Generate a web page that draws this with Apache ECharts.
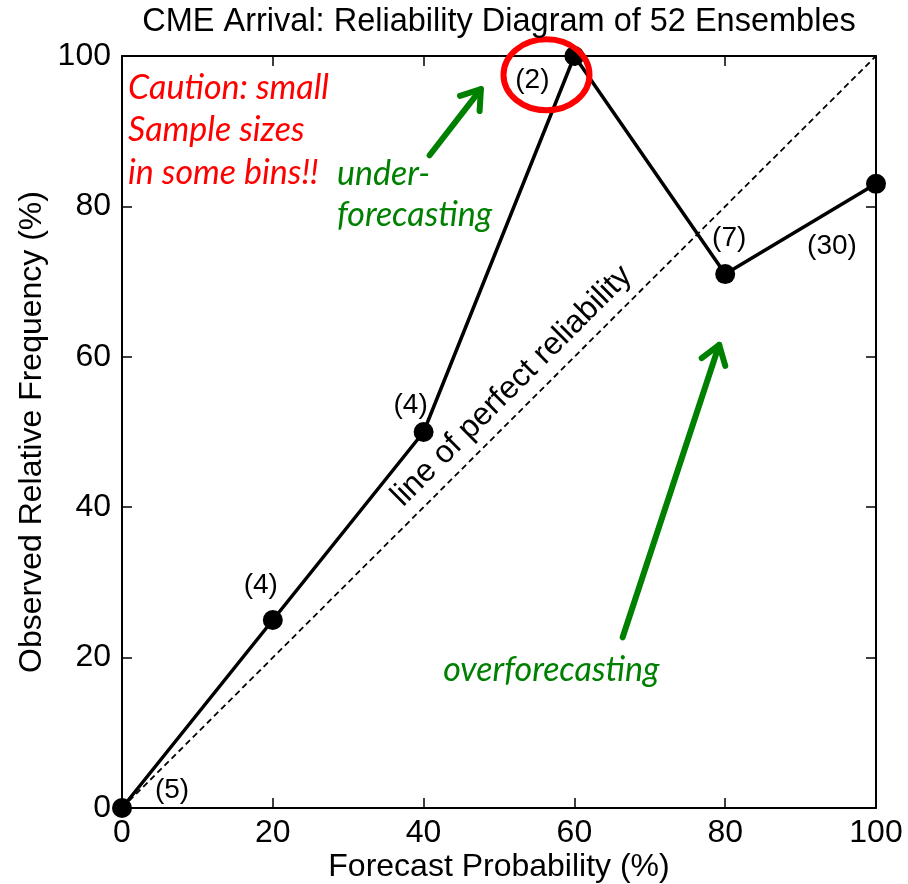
<!DOCTYPE html>
<html>
<head>
<meta charset="utf-8">
<script src="https://cdn.jsdelivr.net/npm/echarts@6/dist/echarts.min.js"></script>
<style>
html, body { margin: 0; padding: 0; background: #fff; }
#main { width: 908px; height: 884px; }
</style>
</head>
<body>
<div id="main"></div>
<script>
// reliability diagram data
var forecastProb = [0, 20, 40, 60, 80, 100];
var observedFreq = [0, 25, 50, 100, 71, 83];
var sampleSizes = [5, 4, 4, 2, 7, 30];
var perfectLine = [[0, 0], [100, 100]];
var axisTicks = [0, 20, 40, 60, 80, 100];

var titleText = 'CME Arrival: Reliability Diagram of 52 Ensembles';
var xName = 'Forecast Probability (%)';
var yName = 'Observed Relative Frequency (%)';
var cautionLines = ['Caution: small', 'Sample sizes', 'in some bins!!'];

// where the "(n)" labels sit relative to each dot (px)
var labelOffsets = [[50, -18], [-12, -35], [-13, -27], [-42, 24], [4, -36], [-44, 62]];

var myChart = echarts.init(document.getElementById('main'), null, { renderer: 'canvas' });

var pts = forecastProb.map(function (x, i) {
    return {
        value: [x, observedFreq[i]],
        label: {
            show: true,
            position: 'inside',
            offset: labelOffsets[i],
            formatter: '(' + sampleSizes[i] + ')'
        }
    };
});

function axisCommon(pos, showLabel, margin) {
    return {
        type: 'value',
        position: pos,
        min: 0,
        max: 100,
        interval: 20,
        nameMoveOverlap: false,
        axisLine: { show: true, onZero: false, lineStyle: { color: '#000', width: 2 } },
        axisTick: { show: true, inside: true, length: 10, lineStyle: { color: '#000', width: 1.5 } },
        splitLine: { show: false },
        axisLabel: {
            show: showLabel,
            color: '#000',
            fontSize: 32,
            fontFamily: 'Liberation Sans',
            margin: margin || 11
        }
    };
}

var xBottom = axisCommon('bottom', true, 9);
xBottom.name = xName;
xBottom.nameLocation = 'middle';
xBottom.nameGap = 43;
xBottom.nameTextStyle = { color: '#000', fontSize: 32, fontFamily: 'Liberation Sans' };
var xTop = axisCommon('top', false);

var yLeft = axisCommon('left', true);
yLeft.name = yName;
yLeft.nameLocation = 'middle';
yLeft.nameGap = 74;
yLeft.nameTextStyle = { color: '#000', fontSize: 32, fontFamily: 'Liberation Sans' };
var yRight = axisCommon('right', false);

var option = {
    backgroundColor: '#fff',
    animation: false,
    grid: { left: 122, top: 56, width: 754, height: 752, outerBoundsMode: 'none', containLabel: false },
    xAxis: [xBottom, xTop],
    yAxis: [yLeft, yRight],
    series: [
        {
            type: 'line',
            data: perfectLine,
            symbol: 'none',
            lineStyle: { color: '#000', width: 1.8, type: [6, 4] },
            z: 2
        },
        {
            type: 'line',
            data: pts,
            symbol: 'circle',
            symbolSize: 20,
            itemStyle: { color: '#000' },
            lineStyle: { color: '#000', width: 3.5 },
            label: { color: '#000', fontSize: 28, fontFamily: 'Liberation Sans' },
            z: 3
        }
    ]
};
myChart.setOption(option);

// annotations placed in data coordinates
function px(x, y) {
    return myChart.convertToPixel({ gridIndex: 0 }, [x, y]);
}

function arrow(from, to, color, width) {
    var a = px(from[0], from[1]);
    var b = px(to[0], to[1]);
    var ang = Math.atan2(b[1] - a[1], b[0] - a[0]);
    var hl = 22, spread = 0.6;
    var h1 = [b[0] - hl * Math.cos(ang - spread), b[1] - hl * Math.sin(ang - spread)];
    var h2 = [b[0] - hl * Math.cos(ang + spread), b[1] - hl * Math.sin(ang + spread)];
    var st = { stroke: color, lineWidth: width, lineCap: 'round', lineJoin: 'round', fill: null };
    return [
        { type: 'polyline', shape: { points: [a, b] }, style: st, z: 10 },
        { type: 'polyline', shape: { points: [h1, b, h2] }, style: st, z: 10 }
    ];
}

function label(text, at, color, size, family, italic, align) {
    var p = px(at[0], at[1]);
    return {
        type: 'text',
        x: p[0],
        y: p[1],
        z: 10,
        style: {
            text: text,
            fill: color,
            font: (italic ? 'italic ' : '') + size + 'px ' + family,
            align: align || 'left',
            verticalAlign: 'middle'
        }
    };
}

var green = '#008000';
var red = '#ff0000';
var elements = [];

// title centred over the plot area
elements.push(label(titleText, [50, 104.5], '#000', 32.5, 'Liberation Sans', false, 'center'));

cautionLines.forEach(function (t, i) {
    elements.push(label(t, [0.8, 95.8 - i * 5.65], red, 34, 'Lato', true));
});
elements.push(label('under-', [28.5, 84.3], green, 34, 'Lato', true));
elements.push(label('forecasting', [28.5, 78.8], green, 34, 'Lato', true));
elements.push(label('overforecasting', [42.6, 18.4], green, 34, 'Lato', true));

elements = elements.concat(arrow([40.8, 86.8], [47.6, 95.6], green, 6));
elements = elements.concat(arrow([66.4, 22.7], [79.2, 61.6], green, 6));

var c = px(56.3, 97.5);
elements.push({
    type: 'ellipse',
    shape: { cx: c[0], cy: c[1], rx: 43, ry: 35.5 },
    style: { stroke: red, lineWidth: 6, fill: null },
    z: 9
});

var d = px(51.7, 56.1);
elements.push({
    type: 'text',
    x: d[0],
    y: d[1],
    rotation: Math.PI / 4,
    z: 10,
    style: {
        text: 'line of perfect reliability',
        fill: '#000',
        font: '32px Liberation Sans',
        align: 'center',
        verticalAlign: 'middle'
    }
});

myChart.setOption({ graphic: { elements: elements } });

window.addEventListener('resize', myChart.resize);
</script>
</body>
</html>
